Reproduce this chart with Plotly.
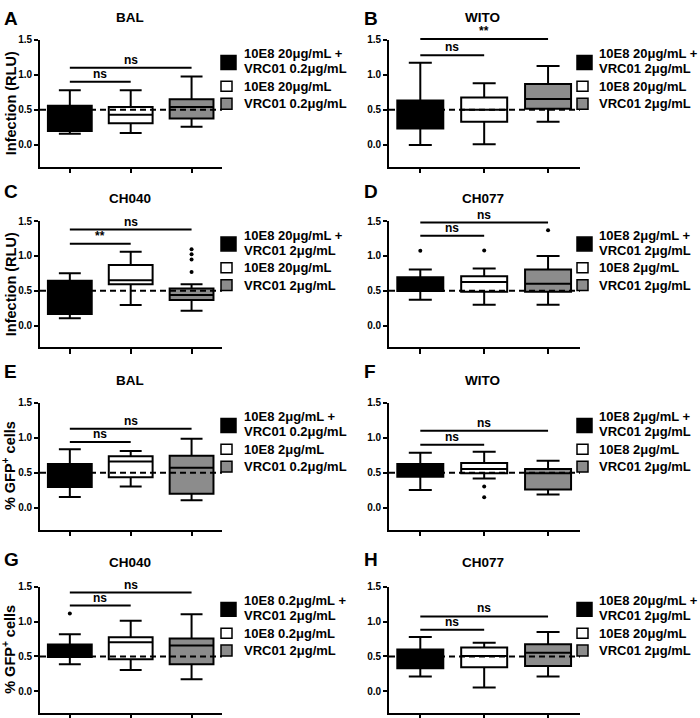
import plotly.graph_objects as go

W, H = 700, 718
FONT = "Liberation Sans, Arial, sans-serif"

# ---------------- data ----------------
positions = [0, 1, 2]
fill_colors = ["#000000", "#ffffff", "#8c8c8c"]
panel_letters = ["A", "B", "C", "D", "E", "F", "G", "H"]
panel_titles = ["BAL", "WITO", "CH040", "CH077", "BAL", "WITO", "CH040", "CH077"]
y_tick_vals = [0.0, 0.5, 1.0, 1.5]
y_tick_text = ["0.0", "0.5", "1.0", "1.5"]
reference_level = 0.5

# Panel A
A_low = [0.16, 0.17, 0.26]
A_q1 = [0.20, 0.31, 0.375]
A_med = [0.40, 0.43, 0.54]
A_q3 = [0.56, 0.54, 0.65]
A_high = [0.78, 0.78, 0.975]
A_out_x, A_out_y = [], []
A_sig = [0.90, 1.10]
A_sig_text = ["ns", "ns"]
A_legend = ["10E8 20μg/mL +", "VRC01 0.2μg/mL", "10E8 20μg/mL", "VRC01 0.2μg/mL"]

# Panel B
B_low = [0.0, 0.01, 0.33]
B_q1 = [0.235, 0.33, 0.517]
B_med = [0.45, 0.50, 0.655]
B_q3 = [0.635, 0.677, 0.87]
B_high = [1.17, 0.88, 1.125]
B_out_x, B_out_y = [], []
B_sig = [1.28, 1.51]
B_sig_text = ["ns", "**"]
B_legend = ["10E8 20μg/mL +", "VRC01 2μg/mL", "10E8 20μg/mL", "VRC01 2μg/mL"]

# Panel C
C_low = [0.105, 0.295, 0.214]
C_q1 = [0.167, 0.595, 0.367]
C_med = [0.40, 0.652, 0.438]
C_q3 = [0.643, 0.87, 0.533]
C_high = [0.75, 1.06, 0.595]
C_out_x = [2, 2, 2, 2]
C_out_y = [0.77, 0.95, 1.024, 1.095]
C_sig = [1.176, 1.38]
C_sig_text = ["**", "ns"]
C_legend = ["10E8 20μg/mL +", "VRC01 2μg/mL", "10E8 20μg/mL", "VRC01 2μg/mL"]

# Panel D
D_low = [0.37, 0.30, 0.30]
D_q1 = [0.497, 0.487, 0.487]
D_med = [0.60, 0.625, 0.60]
D_q3 = [0.696, 0.71, 0.805]
D_high = [0.805, 0.82, 1.0]
D_out_x = [0, 1, 2]
D_out_y = [1.074, 1.08, 1.37]
D_sig = [1.29, 1.48]
D_sig_text = ["ns", "ns"]
D_legend = ["10E8 2μg/mL +", "VRC01 2μg/mL", "10E8 2μg/mL", "VRC01 2μg/mL"]

# Panel E
E_low = [0.155, 0.305, 0.108]
E_q1 = [0.296, 0.437, 0.20]
E_med = [0.45, 0.662, 0.573]
E_q3 = [0.624, 0.737, 0.742]
E_high = [0.836, 0.812, 0.986]
E_out_x, E_out_y = [], []
E_sig = [0.939, 1.127]
E_sig_text = ["ns", "ns"]
E_legend = ["10E8 2μg/mL +", "VRC01 0.2μg/mL", "10E8 2μg/mL", "VRC01 0.2μg/mL"]

# Panel F
F_low = [0.256, 0.42, 0.19]
F_q1 = [0.445, 0.493, 0.26]
F_med = [0.55, 0.555, 0.493]
F_q3 = [0.626, 0.64, 0.555]
F_high = [0.787, 0.80, 0.673]
F_out_x = [1, 1]
F_out_y = [0.303, 0.152]
F_sig = [0.90, 1.10]
F_sig_text = ["ns", "ns"]
F_legend = ["10E8 2μg/mL +", "VRC01 2μg/mL", "10E8 2μg/mL", "VRC01 2μg/mL"]

# Panel G
G_low = [0.388, 0.307, 0.175]
G_q1 = [0.492, 0.459, 0.388]
G_med = [0.58, 0.704, 0.657]
G_q3 = [0.671, 0.775, 0.757]
G_high = [0.818, 1.012, 1.106]
G_out_x = [0]
G_out_y = [1.116]
G_sig = [1.229, 1.414]
G_sig_text = ["ns", "ns"]
G_legend = ["10E8 0.2μg/mL +", "VRC01 2μg/mL", "10E8 0.2μg/mL", "VRC01 2μg/mL"]

# Panel H
H_low = [0.213, 0.057, 0.213]
H_q1 = [0.331, 0.345, 0.364]
H_med = [0.46, 0.506, 0.553]
H_q3 = [0.60, 0.629, 0.676]
H_high = [0.78, 0.695, 0.851]
H_out_x, H_out_y = [], []
H_sig = [0.884, 1.073]
H_sig_text = ["ns", "ns"]
H_legend = ["10E8 20μg/mL +", "VRC01 2μg/mL", "10E8 20μg/mL", "VRC01 2μg/mL"]

panels = [
    (A_low, A_q1, A_med, A_q3, A_high, A_out_x, A_out_y, A_sig, A_sig_text, A_legend),
    (B_low, B_q1, B_med, B_q3, B_high, B_out_x, B_out_y, B_sig, B_sig_text, B_legend),
    (C_low, C_q1, C_med, C_q3, C_high, C_out_x, C_out_y, C_sig, C_sig_text, C_legend),
    (D_low, D_q1, D_med, D_q3, D_high, D_out_x, D_out_y, D_sig, D_sig_text, D_legend),
    (E_low, E_q1, E_med, E_q3, E_high, E_out_x, E_out_y, E_sig, E_sig_text, E_legend),
    (F_low, F_q1, F_med, F_q3, F_high, F_out_x, F_out_y, F_sig, F_sig_text, F_legend),
    (G_low, G_q1, G_med, G_q3, G_high, G_out_x, G_out_y, G_sig, G_sig_text, G_legend),
    (H_low, H_q1, H_med, H_q3, H_high, H_out_x, H_out_y, H_sig, H_sig_text, H_legend),
]

# ---------------- layout geometry (pixels) ----------------
row_top = [34, 217, 400, 585.5]
row_bot = [162, 344, 528, 713]
col_x = [(40, 222), (389, 580)]
X_RANGE = [-0.49, 2.5]
Y_RANGE = [-0.31, 1.5]
letter_y = [13, 187, 369, 558]
title_y = [11.5, 194, 378, 561]
title_x = [130, 483]
letter_x = [2, 362]
leg_sq_x = [221, 577]
leg_txt_x = [242, 597]


def px(x):
    return x / W


def py(y):
    return 1 - y / H


def ydom(v):
    # position along the y axis expressed as a fraction of its domain (linear axis)
    return (v - Y_RANGE[0]) / (Y_RANGE[1] - Y_RANGE[0])


fig = go.Figure()
layout = dict(
    width=W, height=H, margin=dict(l=0, r=0, t=0, b=0),
    paper_bgcolor="white", plot_bgcolor="white", showlegend=False,
    font=dict(family=FONT, color="black"),
)
shapes, annotations = [], []

for i, (low, q1, med, q3, high, ox, oy, sig, sig_text, legend) in enumerate(panels):
    r, c = i // 2, i % 2
    n = i + 1
    xa = "x" if n == 1 else f"x{n}"
    ya = "y" if n == 1 else f"y{n}"
    x0p, x1p = col_x[c]
    layout["xaxis" if n == 1 else f"xaxis{n}"] = dict(
        domain=[px(x0p), px(x1p)], anchor=ya, range=X_RANGE,
        showline=True, linecolor="black", linewidth=1.6,
        ticks="outside", ticklen=5, tickwidth=1.6, tickcolor="black",
        tickvals=positions, showticklabels=False,
        showgrid=False, zeroline=False, fixedrange=True,
    )
    layout["yaxis" if n == 1 else f"yaxis{n}"] = dict(
        domain=[py(row_bot[r]), py(row_top[r])], anchor=xa, range=Y_RANGE,
        showline=True, linecolor="black", linewidth=1.6,
        ticks="outside", ticklen=4, tickwidth=1.6, tickcolor="black",
        tickvals=y_tick_vals, ticktext=y_tick_text,
        tickfont=dict(size=10, family=FONT, weight="bold", color="black"),
        showgrid=False, zeroline=False, fixedrange=True,
    )
    for k in range(3):
        fig.add_trace(go.Box(
            x=[positions[k]], q1=[q1[k]], median=[med[k]], q3=[q3[k]],
            lowerfence=[low[k]], upperfence=[high[k]],
            fillcolor=fill_colors[k], line=dict(color="black", width=2),
            width=0.72, whiskerwidth=0.5, boxpoints=False,
            xaxis=xa, yaxis=ya, hoverinfo="skip",
        ))
    if ox:
        fig.add_trace(go.Scatter(
            x=ox, y=oy, mode="markers",
            marker=dict(color="black", size=4), xaxis=xa, yaxis=ya,
            hoverinfo="skip",
        ))
    # dashed reference line
    shapes.append(dict(type="line", xref=xa, yref=ya, x0=X_RANGE[0], x1=X_RANGE[1],
                       y0=reference_level, y1=reference_level,
                       line=dict(color="black", width=2, dash="6px,4px"), layer="above"))
    # significance bars (domain reference so bars at the very top are not clipped)
    for j, target in enumerate([1, 2]):
        yd = ydom(sig[j])
        shapes.append(dict(type="line", xref=xa, yref=f"{ya} domain",
                           x0=positions[0], x1=positions[target],
                           y0=yd, y1=yd, line=dict(color="black", width=2)))
        annotations.append(dict(xref=xa, yref=f"{ya} domain",
                                x=(positions[0] + positions[target]) / 2,
                                y=yd, text=f"<b>{sig_text[j]}</b>", showarrow=False,
                                yanchor="bottom", yshift=-1, font=dict(size=12, family=FONT)))
    # panel letter & title
    annotations.append(dict(xref="paper", yref="paper", x=px(letter_x[c]), y=py(letter_y[r]),
                            text=f"<b>{panel_letters[i]}</b>", showarrow=False,
                            xanchor="left", yanchor="middle", font=dict(size=19, family=FONT)))
    annotations.append(dict(xref="paper", yref="paper", x=px(title_x[c]), y=py(title_y[r]),
                            text=f"<b>{panel_titles[i]}</b>", showarrow=False,
                            xanchor="center", yanchor="middle", font=dict(size=13.5, family=FONT)))
    # legend (drawn manually)
    top = row_top[r]
    sq = [(top + 16, top + 30, 15), (top + 42, top + 52, 11), (top + 59, top + 70, 11)]
    for k, (ya0, ya1, w) in enumerate(sq):
        shapes.append(dict(type="rect", xref="paper", yref="paper",
                           x0=px(leg_sq_x[c]), x1=px(leg_sq_x[c] + w),
                           y0=py(ya1), y1=py(ya0), fillcolor=fill_colors[k],
                           line=dict(color="black", width=1.5)))
    line_y = [top + 14, top + 29.5, top + 47, top + 64.5]
    for k in range(4):
        annotations.append(dict(xref="paper", yref="paper", x=px(leg_txt_x[c]), y=py(line_y[k]),
                                text=f"<b>{legend[k]}</b>", showarrow=False,
                                xanchor="left", yanchor="middle", font=dict(size=13, family=FONT)))

# y-axis titles (left column only)
y_titles = ["Infection (RLU)", "Infection (RLU)", "% GFP<sup>+</sup> cells", "% GFP<sup>+</sup> cells"]
y_title_x = [11, 11, 9, 9]
for r in range(4):
    annotations.append(dict(xref="paper", yref="paper", x=px(y_title_x[r]),
                            y=py((row_top[r] + row_bot[r]) / 2),
                            text=f"<b>{y_titles[r]}</b>", showarrow=False, textangle=-90,
                            xanchor="center", yanchor="middle", font=dict(size=14.5, family=FONT)))

layout["shapes"] = shapes
layout["annotations"] = annotations
fig.update_layout(**layout)
fig.write_html("out.html", config={"displayModeBar": False},
               post_script="document.body.style.margin='0';document.body.style.padding='0';")
